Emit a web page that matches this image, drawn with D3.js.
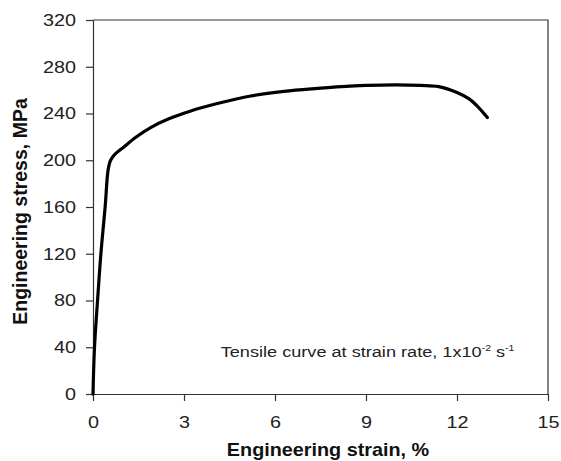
<!DOCTYPE html>
<html>
<head>
<meta charset="utf-8">
<script src="https://cdn.jsdelivr.net/npm/d3@7"></script>
<style>
  html, body { margin: 0; padding: 0; background: #fff; }
  svg { display: block; font-family: 'Liberation Sans', Arial, sans-serif; }
</style>
</head>
<body>
<div id="chart"></div>
<script>
// values
const strain = [0, 0.05, 0.15, 0.26, 0.40, 0.50, 0.58, 0.72, 1.0, 1.4, 1.9, 2.5, 3.2, 4.1, 5.2, 6.3, 7.4, 8.2, 9.0, 10.0, 10.8, 11.4, 12.0, 12.4, 12.7, 13.0];
const stress = [0, 40, 80, 120, 160, 192, 200, 205, 211, 219.5, 228, 235.5, 242, 248.5, 255, 259, 261.5, 263, 264, 264.5, 264, 263, 258, 252.5, 245.5, 236.5];
const xTicks = [0, 3, 6, 9, 12, 15];
const yTicks = [0, 40, 80, 120, 160, 200, 240, 280, 320];
const xLabel = 'Engineering strain, %';
const yLabel = 'Engineering stress, MPa';
const note = ['Tensile curve at strain rate, 1x10', '-2', ' s', '-1'];

const config = {
  svgWidth: 561,
  svgHeight: 461,
  left: 93,
  right: 548,
  top: 20,
  bottom: 394,
  stretch: 1.2
};

const svg = d3.select('#chart')
  .append('svg')
  .attr('width', config.svgWidth)
  .attr('height', config.svgHeight);

// create scales
const scaleX = d3.scaleLinear().domain([0, 15]).range([config.left, config.right]);
const scaleY = d3.scaleLinear().domain([0, 320]).range([config.bottom, config.top]);

// frame (top and right)
svg.append('path')
  .attr('d', `M${config.left},${config.top}H${config.right}V${config.bottom}`)
  .attr('fill', 'none')
  .attr('stroke', '#333')
  .attr('stroke-width', 1.2);

// axes
const axisX = svg.append('g')
  .attr('transform', `translate(0, ${config.bottom})`)
  .call(d3.axisBottom(scaleX).tickValues(xTicks).tickSize(7).tickPadding(15).tickSizeOuter(0));

const axisY = svg.append('g')
  .attr('transform', `translate(${config.left}, 0)`)
  .call(d3.axisLeft(scaleY).tickValues(yTicks).tickSize(7).tickSizeOuter(0));

[axisX, axisY].forEach(ax => {
  ax.select('.domain').attr('stroke', '#333').attr('stroke-width', 1.2);
  ax.selectAll('.tick line').attr('stroke', '#333').attr('stroke-width', 1.2);
  ax.selectAll('.tick text')
    .attr('fill', '#222')
    .style('font-size', '16.5px')
    .style('font-family', "'Liberation Sans', Arial, sans-serif")
    .attr('transform', `scale(${config.stretch},1)`);
});
axisY.selectAll('.tick text').attr('x', -17 / config.stretch);

// axis titles
svg.append('text')
  .attr('transform', `translate(328, 455.5) scale(1.1,1)`)
  .attr('text-anchor', 'middle')
  .attr('fill', '#111')
  .style('font-size', '18px')
  .style('font-weight', 'bold')
  .text(xLabel);

svg.append('text')
  .attr('transform', `translate(26.5, 211.5) rotate(-90)`)
  .attr('text-anchor', 'middle')
  .attr('fill', '#111')
  .style('font-size', '19.5px')
  .style('font-weight', 'bold')
  .text(yLabel);

// the curve
const line = d3.line()
  .x(d => scaleX(d[0]))
  .y(d => scaleY(d[1]))
  .curve(d3.curveCatmullRom.alpha(0.5));

svg.append('path')
  .datum(strain.map((s, i) => [s, stress[i]]))
  .attr('d', line)
  .attr('fill', 'none')
  .attr('stroke', '#000')
  .attr('stroke-width', 3.2)
  .attr('stroke-linecap', 'round')
  .attr('stroke-linejoin', 'round');

// annotation
const noteText = svg.append('text')
  .attr('transform', `translate(220.7, 356.5) scale(1.17,1)`)
  .attr('fill', '#222')
  .style('font-size', '15.5px');
noteText.append('tspan').text(note[0]);
noteText.append('tspan').attr('dy', -6).style('font-size', '9px').text(note[1]);
noteText.append('tspan').attr('dy', 6).text(note[2]);
noteText.append('tspan').attr('dy', -6).style('font-size', '9px').text(note[3]);
</script>
</body>
</html>
